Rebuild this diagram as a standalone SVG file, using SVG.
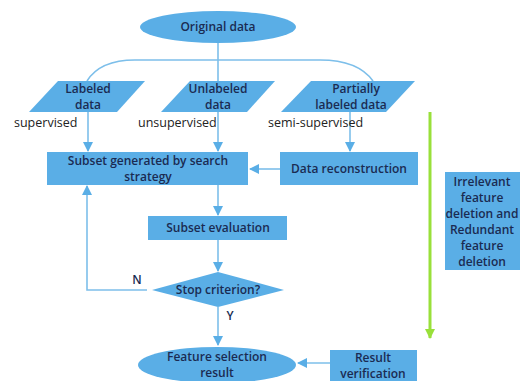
<svg xmlns="http://www.w3.org/2000/svg" width="530" height="381" viewBox="0 0 530 381">
<defs>
<style>
.n{fill:#5aaee6;stroke:none}
.t{font-family:"Open Sans","Liberation Sans",sans-serif;font-weight:600;font-size:12px;fill:#1a2b52;text-anchor:middle}
.l{font-family:"Open Sans","Liberation Sans",sans-serif;font-size:12.5px;fill:#222}
.c{fill:none;stroke:#7dbfea;stroke-width:1.6}
</style>
<marker id="a" viewBox="0 0 10 10" refX="9" refY="5" markerWidth="10" markerHeight="10" markerUnits="userSpaceOnUse" orient="auto">
<path d="M0,0 L10,5 L0,10 z" fill="#5aaee6"/>
</marker>
<marker id="g" viewBox="0 0 10 10" refX="9" refY="5" markerWidth="10" markerHeight="10" markerUnits="userSpaceOnUse" orient="auto">
<path d="M0,0 L10,5 L0,10 z" fill="#99e03a"/>
</marker>
</defs>
<rect width="530" height="381" fill="#ffffff"/>
<g id="connectors">
<path class="c" d="M218,43 V81"/>
<path class="c" d="M87,81 Q100,60 135,60 H320 Q358,60 373,81"/>
<path class="c" d="M88,112 V151" marker-end="url(#a)"/>
<path class="c" d="M218,112 V151" marker-end="url(#a)"/>
<path class="c" d="M350,112 V151" marker-end="url(#a)"/>
<path class="c" d="M280,169 H250" marker-end="url(#a)"/>
<path class="c" d="M218,185 V215" marker-end="url(#a)"/>
<path class="c" d="M218,240 V271" marker-end="url(#a)"/>
<path class="c" d="M147,290 H87 V186" marker-end="url(#a)"/>
<path class="c" d="M218,307 V345" marker-end="url(#a)"/>
<path class="c" d="M331,363 H298" marker-end="url(#a)"/>
<path d="M430,112 V338" fill="none" stroke="#99e03a" stroke-width="3" marker-end="url(#g)"/>
<text class="t" x="137" y="284">N</text>
<text class="t" x="230" y="320">Y</text>
</g>
<g id="original">
<ellipse class="n" cx="218" cy="27" rx="78" ry="16"/>
<text class="t" x="218" y="31">Original data</text>
</g>
<g id="labeled">
<polygon class="n" points="58,81 145,81 117,112 29,112"/>
<text class="t" x="88" y="93">Labeled</text>
<text class="t" x="88" y="109">data</text>
<text class="l" x="14" y="127">supervised</text>
</g>
<g id="unlabeled">
<polygon class="n" points="190,81 275,81 247,112 161,112"/>
<text class="t" x="218" y="93">Unlabeled</text>
<text class="t" x="218" y="109">data</text>
<text class="l" x="138" y="127">unsupervised</text>
</g>
<g id="partial">
<polygon class="n" points="311,81 415,81 386,112 281,112"/>
<text class="t" x="356" y="93">Partially</text>
<text class="t" x="351" y="109">labeled data</text>
<text class="l" x="268" y="127">semi-supervised</text>
</g>
<g id="subset">
<rect class="n" x="47" y="152" width="201" height="33"/>
<text class="t" x="148" y="165">Subset generated by search</text>
<text class="t" x="148" y="181">strategy</text>
</g>
<g id="reconstruction">
<rect class="n" x="280" y="152" width="138" height="33"/>
<text class="t" x="349" y="173">Data reconstruction</text>
</g>
<g id="evaluation">
<rect class="n" x="148" y="216" width="139" height="24"/>
<text class="t" x="218" y="232">Subset evaluation</text>
</g>
<g id="stop">
<polygon class="n" points="218,272 284,290 218,307 152,290"/>
<text class="t" x="218" y="294">Stop criterion?</text>
</g>
<g id="result">
<ellipse class="n" cx="217" cy="365" rx="79" ry="18"/>
<text class="t" x="217" y="361">Feature selection</text>
<text class="t" x="217" y="377">result</text>
</g>
<g id="verification">
<rect class="n" x="330" y="350" width="87" height="35"/>
<text class="t" x="373" y="362">Result</text>
<text class="t" x="373" y="378">verification</text>
</g>
<g id="deletion">
<rect class="n" x="445" y="172" width="75" height="98"/>
<text class="t" x="482" y="186">Irrelevant</text>
<text class="t" x="482" y="202">feature</text>
<text class="t" x="482" y="218">deletion and</text>
<text class="t" x="482" y="234">Redundant</text>
<text class="t" x="482" y="250">feature</text>
<text class="t" x="482" y="266">deletion</text>
</g>
</svg>
